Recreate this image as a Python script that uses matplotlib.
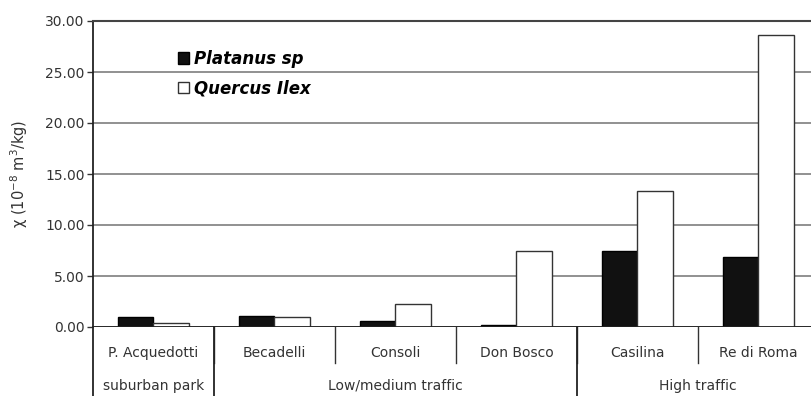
import numpy as np
import matplotlib.pyplot as plt

plt.rcParams['font.family'] = ['DejaVu Sans']

sites = ["P. Acquedotti", "Becadelli", "Consoli", "Don Bosco", "Casilina", "Re di Roma"]
platanus = [0.95, 1.05, 0.62, 0.15, 7.42, 6.83]
quercus = [0.42, 0.95, 2.22, 7.42, 13.3, 28.6]
groups = ["suburban park", "Low/medium traffic", "High traffic"]
group_span = [(0, 0), (1, 3), (4, 5)]

fig = plt.figure(figsize=(8.12, 3.96), dpi=100)
ax = fig.add_axes([93/812, 1 - 327/396, 726/812, 306/396])

x = np.arange(len(sites))
w = 0.29
ax.bar(x - w/2, platanus, w, color="#111111", edgecolor="black", linewidth=1, label="Platanus sp", zorder=3)
ax.bar(x + w/2, quercus, w, color="white", edgecolor="#333333", linewidth=1, label="Quercus Ilex", zorder=3)

ax.set_xlim(-0.5, len(sites) - 0.5)
ax.set_ylim(0, 30)
ax.set_yticks(np.arange(0, 31, 5))
ax.set_yticklabels([f"{v:.2f}" for v in np.arange(0, 31, 5)], fontsize=10, color="#333333")
ax.set_xticks([])
ax.grid(axis='y', color="#888888", linewidth=1.3, zorder=0)
ax.tick_params(axis='y', length=4, width=1, color="#333333", pad=2)
for s in ["right", "bottom"]:
    ax.spines[s].set_visible(False)
ax.spines["top"].set_color("#444444")
ax.spines["top"].set_linewidth(1.5)
ax.spines["left"].set_color("#222222")
ax.spines["left"].set_linewidth(1.3)
ax.axhline(0, color="#222222", linewidth=1.3, zorder=4)

ax.set_ylabel(r"χ (10$^{-8}$ m$^{3}$/kg)", fontsize=10.5, color="#333333")
ax.yaxis.set_label_coords(-0.087, 0.5)

# category and group labels below the axis
cat_y, cat_sep = -2.55, -3.55
grp_y, grp_sep = -5.75, -7.0
for i, name in enumerate(sites):
    ax.text(i, cat_y, name, ha='center', va='center', fontsize=10, color="#333333", clip_on=False)
for i in range(1, len(sites)):
    ax.plot([i - 0.5, i - 0.5], [0, cat_sep], color="#333333", linewidth=1, clip_on=False)
ax.plot([-0.5, -0.5], [0, grp_sep], color="#222222", linewidth=1.3, clip_on=False)
for (a, b), g in zip(group_span, groups):
    ax.text((a + b) / 2, grp_y, g, ha='center', va='center', fontsize=10, color="#333333", clip_on=False)
    if a > 0:
        ax.plot([a - 0.5, a - 0.5], [0, grp_sep], color="#222222", linewidth=1.3, clip_on=False)

leg = ax.legend(loc='upper left', bbox_to_anchor=(0.096, 0.954), frameon=False,
                handlelength=0.7, handleheight=0.7, handletextpad=0.3, labelspacing=0.68,
                prop={'style': 'italic', 'weight': 'bold', 'size': 12})

fig.savefig("out.png", dpi=100)
